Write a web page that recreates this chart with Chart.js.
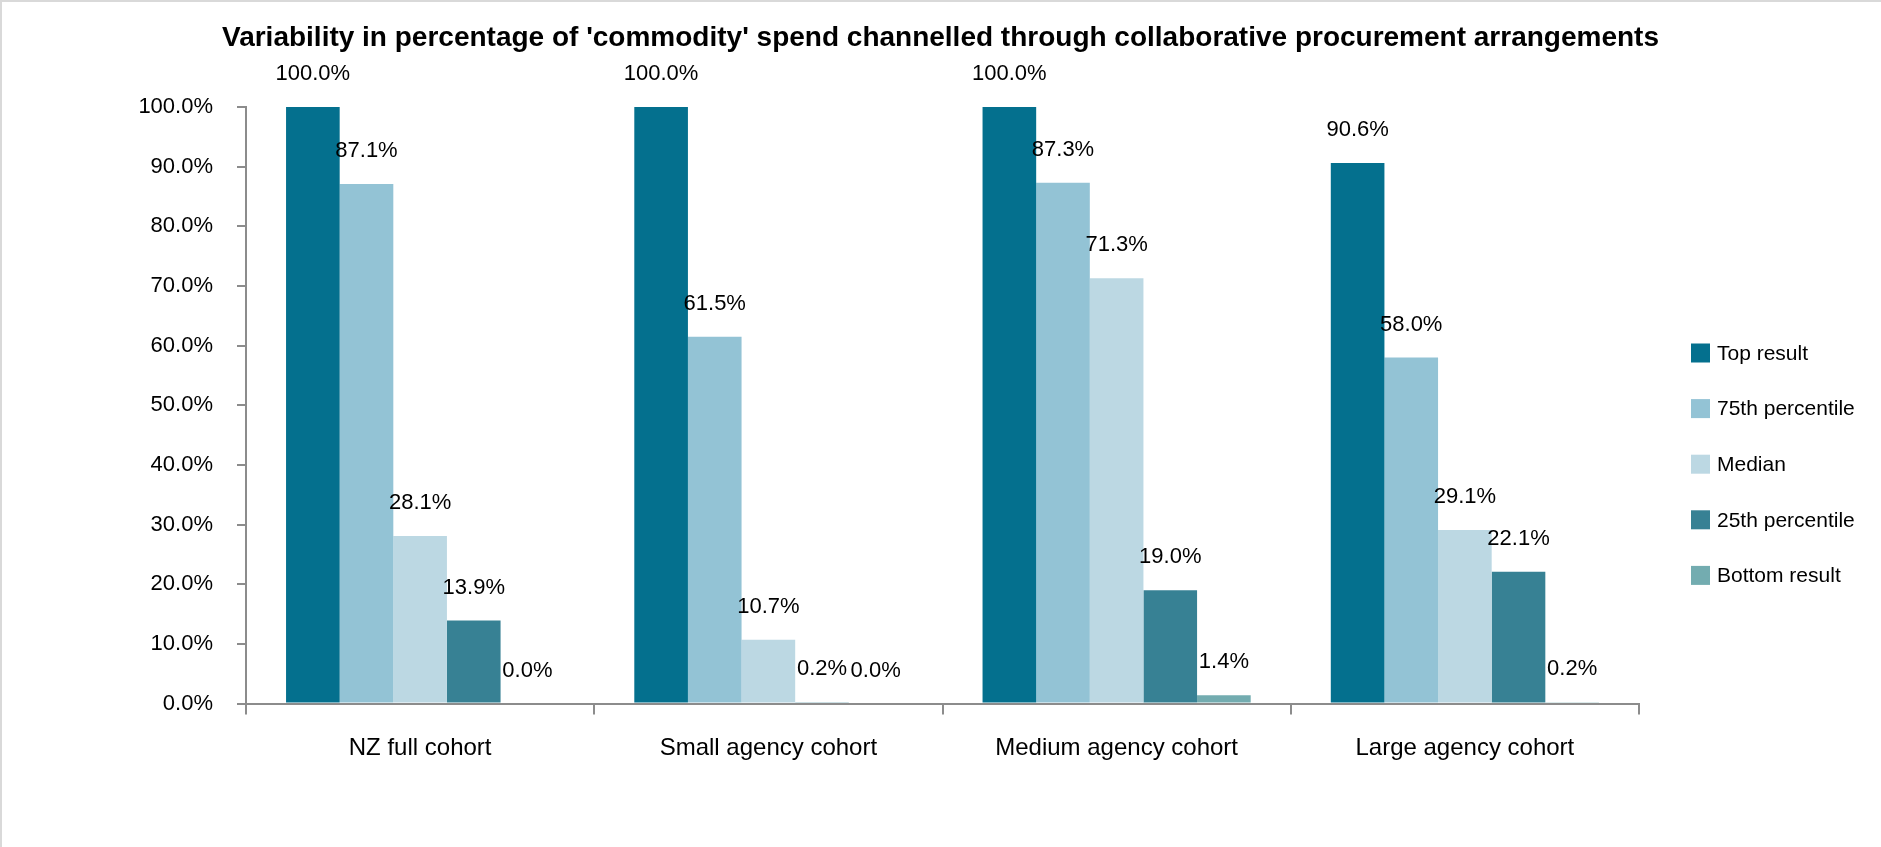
<!DOCTYPE html>
<html>
<head>
<meta charset="utf-8">
<script src="https://cdn.jsdelivr.net/npm/chart.js@4.4.1/dist/chart.umd.min.js"></script>
<style>
  html, body { margin: 0; padding: 0; background: #ffffff; }
  #wrap { width: 1881px; height: 847px; position: relative; }
  canvas { display: block; }
</style>
</head>
<body>
<div id="wrap"><canvas id="chart" width="1881" height="847"></canvas></div>
<script>
// Cohorts along the category axis
const cohorts = ['NZ full cohort', 'Small agency cohort', 'Medium agency cohort', 'Large agency cohort'];

// Percentage of 'commodity' spend through collaborative arrangements, per cohort
const topResult    = [100.0, 100.0, 100.0, 90.6];
const pct75        = [87.1, 61.5, 87.3, 58.0];
const median       = [28.1, 10.7, 71.3, 29.1];
const pct25        = [13.9, 0.2, 19.0, 22.1];
const bottomResult = [0.0, 0.0, 1.4, 0.2];

const seriesNames  = ['Top result', '75th percentile', 'Median', '25th percentile', 'Bottom result'];
const seriesValues = [topResult, pct75, median, pct25, bottomResult];
const seriesColors = ['#04708E', '#93C3D5', '#BCD8E3', '#378194', '#73ACB0'];

const titleText = "Variability in percentage of 'commodity' spend channelled through collaborative procurement arrangements";

const FONT = '"Liberation Sans", Arial, Helvetica, sans-serif';
const AXIS_GREY = '#8c8c8c';

// Frame, title, value labels and the legend
const decorations = {
  id: 'decorations',
  beforeDraw(chart) {
    const ctx = chart.ctx;
    ctx.save();
    ctx.fillStyle = '#ffffff';
    ctx.fillRect(0, 0, chart.width, chart.height);
    ctx.fillStyle = '#d9d9d9';
    ctx.fillRect(0, 0, chart.width, 2);
    ctx.fillRect(0, 0, 2, chart.height);
    ctx.restore();
  },
  afterDraw(chart) {
    const ctx = chart.ctx;
    ctx.save();

    // Title
    ctx.fillStyle = '#000000';
    ctx.font = 'bold 28px ' + FONT;
    ctx.textAlign = 'center';
    ctx.textBaseline = 'middle';
    ctx.fillText(titleText, chart.width / 2, 38);

    // Value labels above each bar
    ctx.font = '22px ' + FONT;
    chart.data.datasets.forEach((ds, di) => {
      const meta = chart.getDatasetMeta(di);
      meta.data.forEach((bar, i) => {
        const v = ds.data[i];
        ctx.fillText(v.toFixed(1) + '%', bar.x, bar.y - 33);
      });
    });

    // Legend
    ctx.font = '21px ' + FONT;
    ctx.textAlign = 'left';
    chart.data.datasets.forEach((ds, di) => {
      const cy = 353 + di * 55.6;
      ctx.fillStyle = ds.backgroundColor;
      ctx.fillRect(1691, cy - 9.5, 19, 19);
      ctx.fillStyle = '#000000';
      ctx.fillText(ds.label, 1717, cy + 1);
    });

    ctx.restore();
  }
};

const datasets = seriesNames.map((name, i) => ({
  label: name,
  data: seriesValues[i],
  backgroundColor: seriesColors[i],
  borderWidth: 0,
  categoryPercentage: 0.77,
  barPercentage: 1.0
}));

new Chart(document.getElementById('chart'), {
  type: 'bar',
  data: { labels: cohorts, datasets },
  options: {
    responsive: false,
    animation: false,
    devicePixelRatio: 1,
    layout: { padding: { top: 107, right: 242, bottom: 0, left: 0 } },
    plugins: {
      legend: { display: false },
      title: { display: false },
      tooltip: { enabled: false }
    },
    scales: {
      x: {
        offset: true,
        grid: {
          offset: true,
          drawOnChartArea: false,
          drawTicks: true,
          tickLength: 11,
          color: AXIS_GREY,
          lineWidth: 2
        },
        border: { display: true, color: AXIS_GREY, width: 2 },
        ticks: {
          color: '#000000',
          font: { family: FONT, size: 24 },
          padding: 19,
          maxRotation: 0
        },
        afterFit(scale) { scale.height = 143.5; }
      },
      y: {
        min: 0,
        max: 100,
        grid: {
          drawOnChartArea: false,
          drawTicks: true,
          tickLength: 9,
          color: AXIS_GREY,
          lineWidth: 2
        },
        border: { display: true, color: AXIS_GREY, width: 2 },
        ticks: {
          stepSize: 10,
          color: '#000000',
          font: { family: FONT, size: 22 },
          padding: 24,
          callback: (v) => Number(v).toFixed(1) + '%'
        },
        afterFit(scale) { scale.width = 246; }
      }
    }
  },
  plugins: [decorations]
});
</script>
</body>
</html>
